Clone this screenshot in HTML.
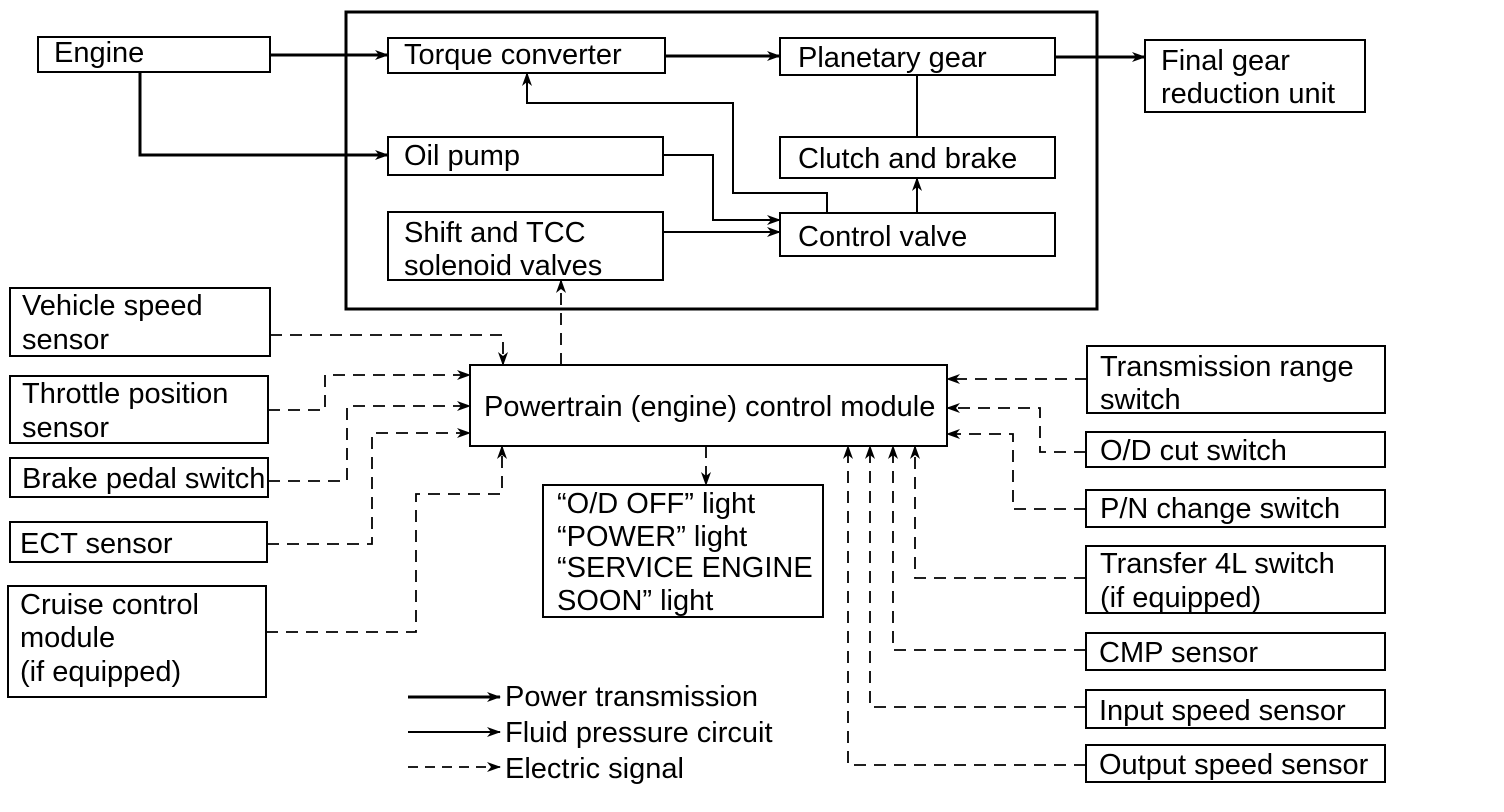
<!DOCTYPE html>
<html><head><meta charset="utf-8"><style>
html,body{margin:0;padding:0;background:#fff;}
svg{display:block;}
text{font-family:"Liberation Sans",Arial,sans-serif;font-size:29px;fill:#000;}
</style></head><body>
<svg width="1504" height="812" viewBox="0 0 1504 812" xmlns="http://www.w3.org/2000/svg">
<defs>
<marker id="a" markerWidth="14" markerHeight="10" refX="13" refY="5" orient="auto" markerUnits="userSpaceOnUse">
<path d="M0,0 L14,5 L0,10 L4,5 Z" fill="#000"/></marker>
</defs>
<g fill="none" stroke="#000">
<rect x="346" y="12" width="751" height="297" stroke-width="3"/>
<g stroke-width="2">
<rect x="38" y="37" width="232" height="35"/>
<rect x="388" y="38" width="277" height="35"/>
<rect x="780" y="38" width="275" height="37"/>
<rect x="1145" y="40" width="220" height="72"/>
<rect x="388" y="137" width="275" height="38"/>
<rect x="780" y="137" width="275" height="41"/>
<rect x="388" y="212" width="275" height="68"/>
<rect x="780" y="213" width="275" height="43"/>
<rect x="10" y="288" width="260" height="68"/>
<rect x="10" y="376" width="258" height="67"/>
<rect x="10" y="458" width="258" height="39"/>
<rect x="10" y="522" width="257" height="40"/>
<rect x="8" y="586" width="258" height="111"/>
<rect x="470" y="365" width="477" height="81"/>
<rect x="543" y="485" width="280" height="132"/>
<rect x="1087" y="346" width="298" height="67"/>
<rect x="1086" y="432" width="299" height="35"/>
<rect x="1086" y="490" width="299" height="37"/>
<rect x="1086" y="546" width="299" height="67"/>
<rect x="1086" y="633" width="299" height="37"/>
<rect x="1086" y="690" width="299" height="38"/>
<rect x="1086" y="745" width="299" height="37"/>
</g>
<g stroke-width="3">
<path d="M270,55 H388" marker-end="url(#a)"/>
<path d="M140,72 V155 H388" marker-end="url(#a)"/>
<path d="M665,56 H780" marker-end="url(#a)"/>
<path d="M1055,57 H1145" marker-end="url(#a)"/>
</g>
<g stroke-width="2">
<path d="M917,75 V137"/>
<path d="M917,213 V178" marker-end="url(#a)"/>
<path d="M663,155 H713 V220 H780" marker-end="url(#a)"/>
<path d="M663,232 H780" marker-end="url(#a)"/>
<path d="M827,213 V193 H733 V103 H527 V73" marker-end="url(#a)"/>
</g>
<g stroke-width="1.8" stroke-dasharray="12,8">
<path d="M561,365 V280" marker-end="url(#a)"/>
<path d="M270,335 H503 V365" marker-end="url(#a)"/>
<path d="M268,410 H325 V375 H470" marker-end="url(#a)"/>
<path d="M268,481 H347 V406 H470" marker-end="url(#a)"/>
<path d="M267,544 H372 V433 H470" marker-end="url(#a)"/>
<path d="M266,632 H416 V494 H502 V446" marker-end="url(#a)"/>
<path d="M706,446 V485" marker-end="url(#a)"/>
<path d="M1087,379 H947" marker-end="url(#a)"/>
<path d="M1086,452 H1040 V408 H947" marker-end="url(#a)"/>
<path d="M1086,509 H1013 V434 H947" marker-end="url(#a)"/>
<path d="M1086,578 H915 V446" marker-end="url(#a)"/>
<path d="M1086,650 H893 V446" marker-end="url(#a)"/>
<path d="M1086,707 H870 V446" marker-end="url(#a)"/>
<path d="M1086,765 H848 V446" marker-end="url(#a)"/>
</g>
<path d="M408,697 H500" stroke-width="3" marker-end="url(#a)"/>
<path d="M408,732 H500" stroke-width="2" marker-end="url(#a)"/>
<path d="M408,767 H500" stroke-width="1.8" stroke-dasharray="10,7" marker-end="url(#a)"/>
</g>
<text x="54" y="62">Engine</text>
<text x="404" y="64">Torque converter</text>
<text x="798" y="67">Planetary gear</text>
<text x="1161" y="70">Final gear</text>
<text x="1161" y="103">reduction unit</text>
<text x="404" y="165">Oil pump</text>
<text x="798" y="168">Clutch and brake</text>
<text x="404" y="242">Shift and TCC</text>
<text x="404" y="275">solenoid valves</text>
<text x="798" y="246">Control valve</text>
<text x="22" y="315">Vehicle speed</text>
<text x="22" y="349">sensor</text>
<text x="22" y="403">Throttle position</text>
<text x="22" y="437">sensor</text>
<text x="22" y="488">Brake pedal switch</text>
<text x="20" y="553">ECT sensor</text>
<text x="20" y="614">Cruise control</text>
<text x="20" y="647">module</text>
<text x="20" y="681">(if equipped)</text>
<text x="484" y="416">Powertrain (engine) control module</text>
<text x="557" y="513">“O/D OFF” light</text>
<text x="557" y="546">“POWER” light</text>
<text x="557" y="577">“SERVICE ENGINE</text>
<text x="557" y="610">SOON” light</text>
<text x="1100" y="376">Transmission range</text>
<text x="1100" y="409">switch</text>
<text x="1100" y="460">O/D cut switch</text>
<text x="1100" y="518">P/N change switch</text>
<text x="1100" y="573">Transfer 4L switch</text>
<text x="1100" y="607">(if equipped)</text>
<text x="1099" y="662">CMP sensor</text>
<text x="1099" y="720">Input speed sensor</text>
<text x="1099" y="774">Output speed sensor</text>
<text x="505" y="706">Power transmission</text>
<text x="505" y="742">Fluid pressure circuit</text>
<text x="505" y="778">Electric signal</text>
</svg>
</body></html>
